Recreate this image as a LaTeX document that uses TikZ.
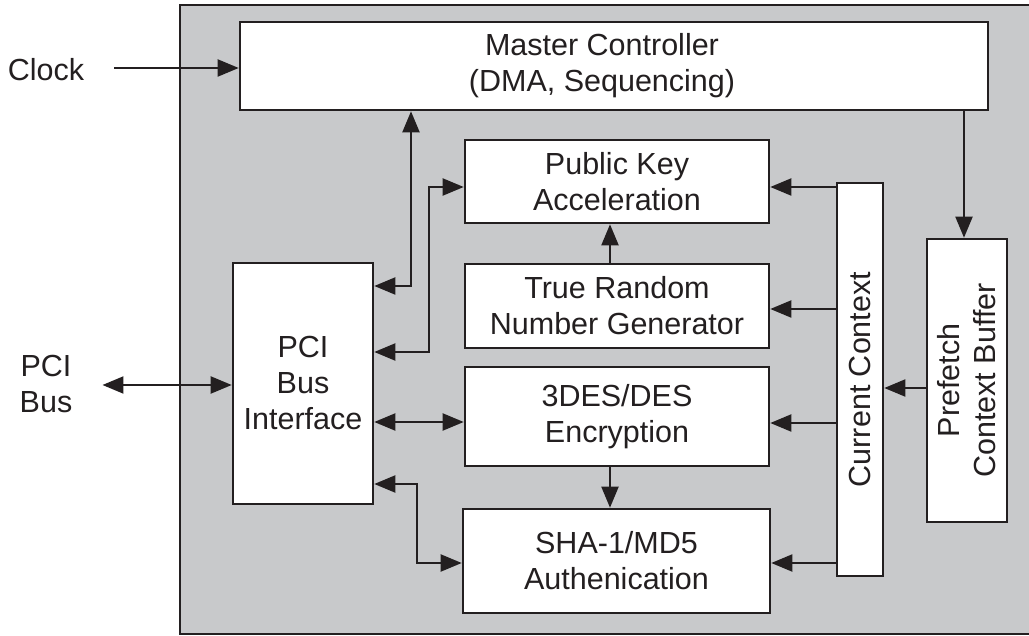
\documentclass[tikz,border=0pt]{standalone}
\usepackage{fontspec}
\setmainfont{Liberation Sans}
\usetikzlibrary{arrows.meta}
\definecolor{bggray}{RGB}{200,201,203}
\definecolor{ink}{RGB}{35,31,32}
\tikzset{
  blk/.style={draw=ink, line width=2.6pt, fill=white, inner sep=0pt, align=center, text=ink,
    font=\fontsize{30.5}{36}\selectfont},
  lbl/.style={inner sep=0pt, align=center, text=ink, font=\fontsize{30.5}{36}\selectfont},
  arr/.style={draw=ink, line width=2pt, -{Triangle[length=21pt,width=17pt]}},
  darr/.style={draw=ink, line width=2pt, {Triangle[length=21pt,width=17pt]}-{Triangle[length=21pt,width=17pt]}},
}
\begin{document}
\begin{tikzpicture}[x=1pt,y=-1pt]
\useasboundingbox (0,0) rectangle (1029,636);
\fill[bggray] (180,5) rectangle (1029,634);
\draw[ink, line width=2.6pt] (1029,5) -- (180,5) -- (180,634) -- (1029,634);

\node[blk, minimum width=748pt, minimum height=88pt] (master) at (614,66) {};
\node[lbl] (mtext) at (602,66) {Master Controller\\(DMA, Sequencing)};
\node[blk, minimum width=304pt, minimum height=83pt] (pk) at (617,181.5) {Public Key\\Acceleration};
\node[blk, minimum width=304pt, minimum height=84pt] (trng) at (617,306) {True Random\\Number Generator};
\node[blk, minimum width=304pt, minimum height=99pt] (des) at (617,416.5) {3DES/DES\\Encryption};
\node[blk, minimum width=307pt, minimum height=104pt] (sha) at (616.5,561) {SHA-1/MD5\\Authenication};
\node[blk, minimum width=140pt, minimum height=241pt] (pci) at (303,383.5) {PCI\\Bus\\Interface};
\node[blk, minimum width=46pt, minimum height=393pt] (cc) at (860,379.5) {};
\node[lbl, rotate=90] (cctext) at (cc.center) {Current Context};
\node[blk, minimum width=80pt, minimum height=283pt] (pf) at (967,380.5) {};
\node[lbl, rotate=90] (pftext) at (pf.center) {Prefetch\\Context Buffer};

\node[lbl] (clock) at (46,70) {Clock};
\node[lbl] (pcibus) at (46,384) {PCI\\Bus};

\draw[arr] ([xshift=30pt]clock.east |- 0,68) -- (master.west |- 0,68);
\draw[darr] ([xshift=30pt]pcibus.east |- 0,385) -- (pci.west |- 0,385);

\draw[darr] (pci.east |- 0,286) -| (master.south -| 411,0);
\draw[darr] (pci.east |- 0,352) -| (429,187) -- (pk.west |- 0,187);
\draw[darr] (pci.east |- 0,422) -- (des.west |- 0,422);
\draw[darr] (pci.east |- 0,484) -| (417,563) -- (sha.west |- 0,563);

\draw[arr] (trng.north -| 610,0) -- (pk.south -| 610,0);
\draw[arr] (des.south -| 610,0) -- (sha.north -| 610,0);
\draw[arr] (master.south -| 964,0) -- (pf.north -| 964,0);
\draw[arr] (pf.west |- 0,388) -- (cc.east |- 0,388);

\draw[arr] (cc.west |- 0,187) -- (pk.east |- 0,187);
\draw[arr] (cc.west |- 0,309) -- (trng.east |- 0,309);
\draw[arr] (cc.west |- 0,423) -- (des.east |- 0,423);
\draw[arr] (cc.west |- 0,563) -- (sha.east |- 0,563);
\end{tikzpicture}
\end{document}
